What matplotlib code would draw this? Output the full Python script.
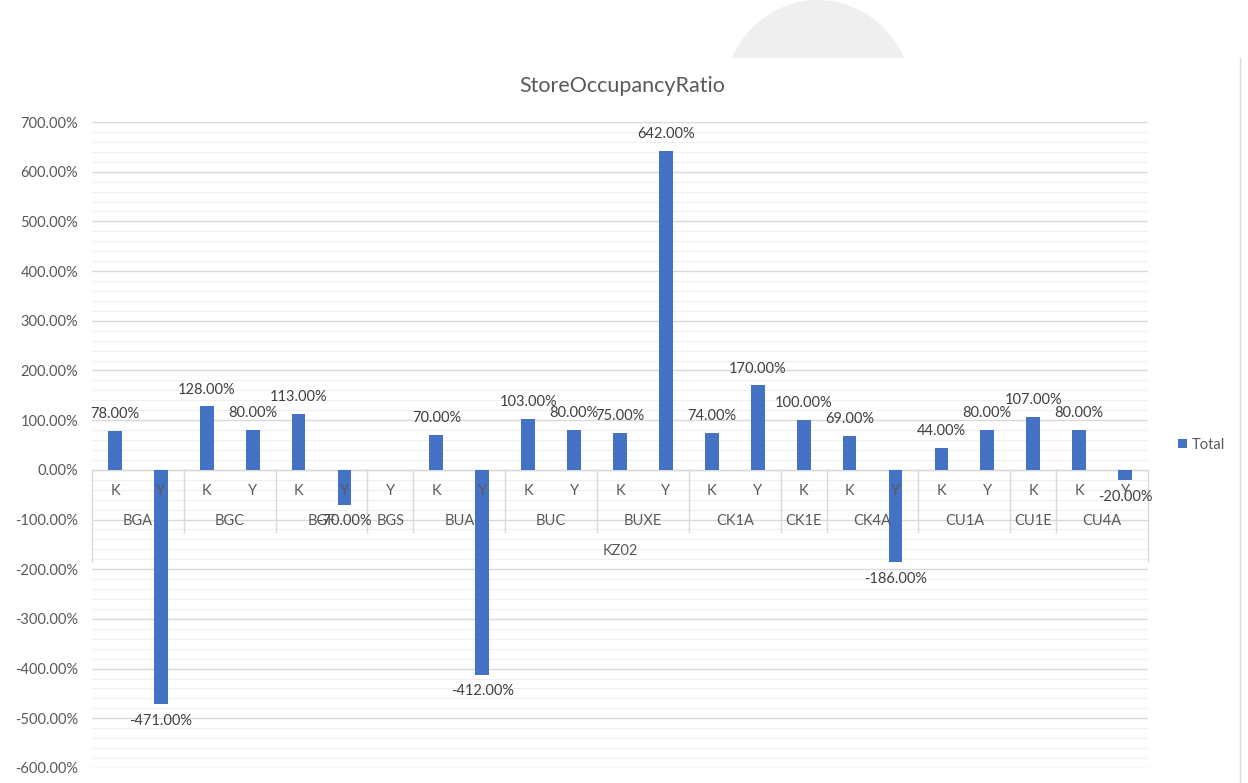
"""StoreOccupancyRatio - Excel style column chart with a two level category axis."""

import matplotlib
matplotlib.use('Agg')  # noqa
import matplotlib.pyplot as plt
from matplotlib.patches import Ellipse, Rectangle
from matplotlib.lines import Line2D
from matplotlib.ticker import MultipleLocator, FuncFormatter
import numpy as np

# data
groups = ['BGA', 'BGC', 'BGF', 'BGS', 'BUA', 'BUC', 'BUXE', 'CK1A', 'CK1E',
          'CK4A', 'CU1A', 'CU1E', 'CU4A']
sub_labels = [['K', 'Y'], ['K', 'Y'], ['K', 'Y'], ['Y'], ['K', 'Y'], ['K', 'Y'],
              ['K', 'Y'], ['K', 'Y'], ['K'], ['K', 'Y'], ['K', 'Y'], ['K'], ['K', 'Y']]
values = [[78, -471], [128, 80], [113, -70], [np.nan], [70, -412], [103, 80],
          [75, 642], [74, 170], [100], [69, -186], [44, 80], [107], [80, -20]]
top_label = 'KZ02'
series_name = 'Total'

BLUE = '#4472c4'
GRID = '#d9d9d9'
TEXT = '#595959'
FONT = 'Lato'

plt.rcParams['font.family'] = [FONT, 'DejaVu Sans']

fig = plt.figure(figsize=(12.48, 7.83), dpi=100)
ax = fig.add_axes([92 / 1248, 1 - 768 / 783, (1148 - 92) / 1248, (768 - 122) / 783])

flat_vals = [v for g in values for v in g]
flat_subs = [s for g in sub_labels for s in g]
x = np.arange(len(flat_vals))

bars = ax.bar(x, flat_vals, width=0.3, color=BLUE, zorder=3, label=series_name)

# data labels
for xi, v in zip(x, flat_vals):
    if np.isnan(v):
        continue
    if v >= 0:
        ax.annotate(f'{v:.2f}%', (xi, v), xytext=(0, 7), textcoords='offset points',
                    ha='center', va='bottom', fontsize=10.5, color='#404040')
    else:
        ax.annotate(f'{v:.2f}%', (xi, v), xytext=(0, -7), textcoords='offset points',
                    ha='center', va='top', fontsize=10.5, color='#404040')

ax.set_xlim(-0.5, len(flat_vals) - 0.5)
ax.set_ylim(-600, 700)
ax.yaxis.set_major_locator(MultipleLocator(100))
ax.yaxis.set_minor_locator(MultipleLocator(20))
ax.yaxis.set_major_formatter(FuncFormatter(lambda v, p: f'{v:.2f}%'))
ax.grid(axis='y', which='major', color=GRID, lw=1, zorder=0)
ax.grid(axis='y', which='minor', color='#efefef', lw=0.8, zorder=0)
ax.tick_params(axis='y', which='both', length=0, labelsize=10.5, labelcolor=TEXT, pad=10)
ax.set_xticks([])
for s in ax.spines.values():
    s.set_visible(False)
ax.axhline(0, color=GRID, lw=1, zorder=2)

# multi level category axis
ax.plot([-0.5, -0.5], [0, -183], color=GRID, lw=1, clip_on=False, zorder=2)
ax.plot([len(flat_vals) - 0.5] * 2, [0, -183], color=GRID, lw=1, clip_on=False, zorder=2)
pos = 0
for g, subs in zip(groups, sub_labels):
    n = len(subs)
    for j, s in enumerate(subs):
        ax.text(pos + j, -42, s, ha='center', va='center', fontsize=10.5, color=TEXT, zorder=4)
    ax.text(pos + (n - 1) / 2, -103, g, ha='center', va='center', fontsize=10.5,
            color=TEXT, zorder=4)
    pos += n
    if pos < len(flat_vals):
        ax.plot([pos - 0.5] * 2, [0, -125], color=GRID, lw=1, zorder=2)
ax.text((len(flat_vals) - 1) / 2, -163, top_label, ha='center', va='center',
        fontsize=10.5, color=TEXT, zorder=4)

fig.text(622 / 1248, 1 - 86 / 783, 'StoreOccupancyRatio', ha='center', va='center',
         fontsize=15.5, color=TEXT)

leg = fig.legend(handles=[bars], labels=[series_name], loc='center left',
                 bbox_to_anchor=(1165 / 1248, 1 - 445 / 783), frameon=False,
                 fontsize=10.5, handlelength=0.6, handleheight=0.6, handletextpad=0.3)
for t in leg.get_texts():
    t.set_color(TEXT)

# screenshot frame bits
fig.add_artist(Line2D([1240 / 1248] * 2, [0, 1 - 58 / 783], color=GRID, lw=1,
                      transform=fig.transFigure))
clip = Rectangle((0, 1 - 58 / 783), 1, 58 / 783, transform=fig.transFigure)
blob = Ellipse((818 / 1248, 1 - 100 / 783), 190 / 1248, 200 / 783, color='#efefef',
               transform=fig.transFigure, lw=0)
fig.add_artist(blob)
blob.set_clip_path(clip)

fig.savefig('out.png', dpi=100)
